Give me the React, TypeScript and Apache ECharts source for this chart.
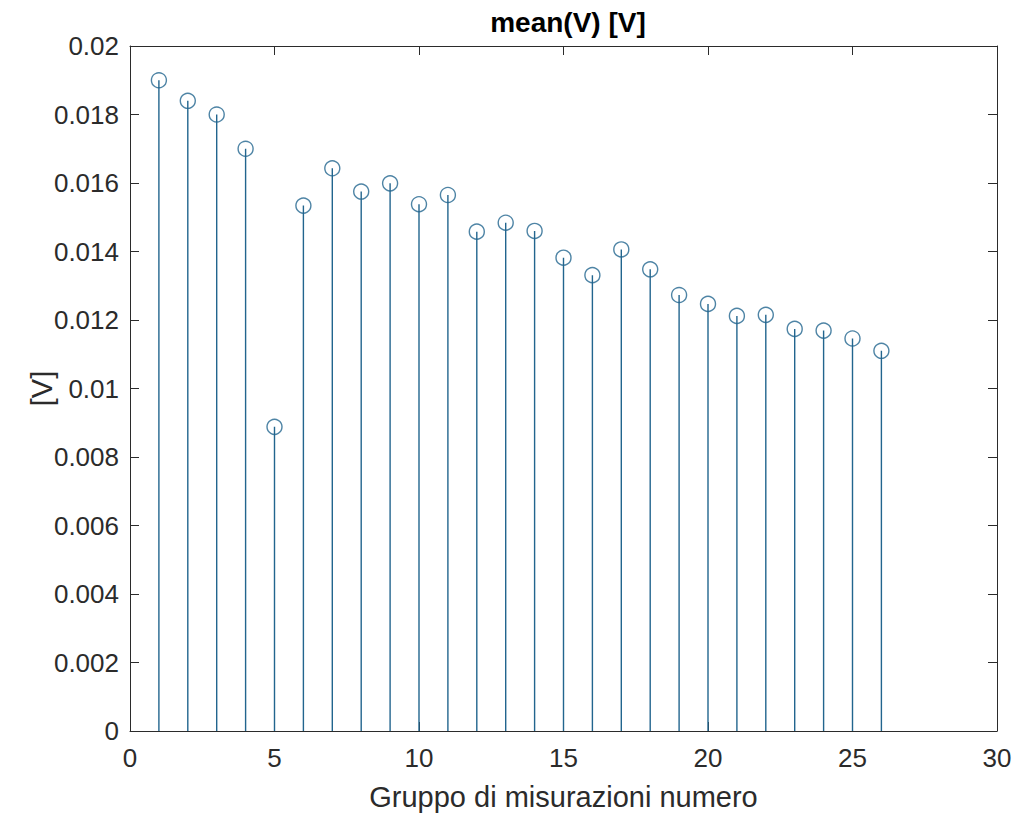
import React, { useEffect, useRef } from "react";
import * as echarts from "echarts";

// Measurement groups and their mean voltage
const groups: number[] = [
  1, 2, 3, 4, 5, 6, 7, 8, 9, 10, 11, 12, 13, 14, 15, 16, 17, 18, 19, 20, 21, 22, 23, 24, 25, 26,
];
const meanV: number[] = [
  0.019, 0.0184, 0.018, 0.017, 0.00888, 0.01534, 0.01643, 0.01575, 0.01599, 0.01538, 0.01565,
  0.01458, 0.01484, 0.0146, 0.01382, 0.01331, 0.01406, 0.01348, 0.01273, 0.01247, 0.01212,
  0.01215, 0.01174, 0.01169, 0.01146, 0.0111,
];

const titleText = "mean(V) [V]";
const xLabel = "Gruppo di misurazioni numero";
const yLabel = "[V]";

const STEM = "#22658e";
const INK = "#2b2b2b";
const FONT = "Liberation Sans, Arial, sans-serif";

export default function App() {
  const ref = useRef<HTMLDivElement>(null);

  useEffect(() => {
    if (!ref.current) return;
    const chart = echarts.init(ref.current, null, { renderer: "svg" });
    const points = groups.map((g, i) => [g, meanV[i]]);

    const tick = { show: true, inside: true, length: 9, lineStyle: { color: INK, width: 1 } };
    const line = { show: true, onZero: false, lineStyle: { color: INK, width: 1 } };

    chart.setOption({
      animation: false,
      backgroundColor: "#ffffff",
      title: {
        text: titleText,
        left: 563,
        textAlign: "center",
        top: 3,
        textStyle: { fontFamily: FONT, fontSize: 28, fontWeight: "bold", color: "#000000" },
      },
      grid: { left: 130, right: 22, top: 46, bottom: 89, containLabel: false },
      xAxis: [
        {
          type: "value",
          min: 0,
          max: 30,
          interval: 5,
          position: "bottom",
          name: xLabel,
          nameLocation: "middle",
          nameGap: 51,
          nameMoveOverlap: false,
          nameTextStyle: { fontFamily: FONT, fontSize: 29, color: INK },
          axisLine: line,
          axisTick: tick,
          splitLine: { show: false },
          axisLabel: { fontFamily: FONT, fontSize: 26, color: INK, margin: 14 },
        },
        {
          type: "value",
          min: 0,
          max: 30,
          interval: 5,
          position: "top",
          axisLine: line,
          axisTick: tick,
          splitLine: { show: false },
          axisLabel: { show: false },
        },
      ],
      yAxis: [
        {
          type: "value",
          min: 0,
          max: 0.02,
          interval: 0.002,
          position: "left",
          name: yLabel,
          nameLocation: "middle",
          nameGap: 74,
          nameMoveOverlap: false,
          nameRotate: 90,
          nameTextStyle: { fontFamily: FONT, fontSize: 29, color: INK },
          axisLine: line,
          axisTick: tick,
          splitLine: { show: false },
          axisLabel: {
            fontFamily: FONT,
            fontSize: 26,
            color: INK,
            margin: 11,
            formatter: (v: number) => String(+v.toFixed(3)),
          },
        },
        {
          type: "value",
          min: 0,
          max: 0.02,
          interval: 0.002,
          position: "right",
          axisLine: line,
          axisTick: tick,
          splitLine: { show: false },
          axisLabel: { show: false },
        },
      ],
      series: [
        {
          type: "custom",
          xAxisIndex: 0,
          yAxisIndex: 0,
          data: points,
          renderItem: (_params: any, api: any) => {
            const top = api.coord([api.value(0), api.value(1)]);
            const base = api.coord([api.value(0), 0]);
            return {
              type: "line",
              shape: { x1: base[0], y1: base[1], x2: top[0], y2: top[1] },
              style: { stroke: STEM, lineWidth: 1.4 },
            };
          },
          silent: true,
        },
        {
          type: "scatter",
          xAxisIndex: 0,
          yAxisIndex: 0,
          data: points,
          symbol: "circle",
          symbolSize: 15,
          itemStyle: { color: "rgba(0,0,0,0)", borderColor: STEM, borderWidth: 1.4 },
          silent: true,
        },
      ],
    });

    return () => chart.dispose();
  }, []);

  return (
    <div
      ref={ref}
      style={{ position: "fixed", left: 0, top: 0, width: 1019, height: 820 }}
    />
  );
}
